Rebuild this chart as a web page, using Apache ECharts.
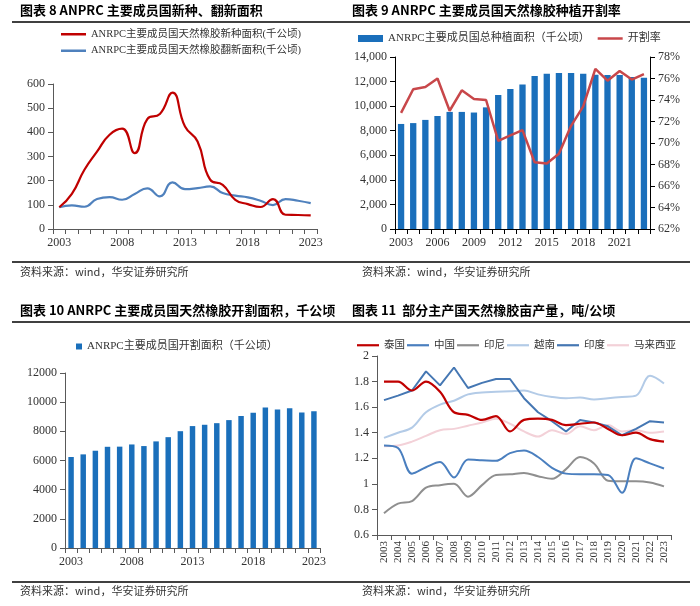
<!DOCTYPE html>
<html>
<head>
<meta charset="utf-8">
<script src="https://cdn.jsdelivr.net/npm/echarts@6/dist/echarts.min.js"></script>
<style>html,body{margin:0;padding:0;background:#fff;}#c{width:700px;height:606px;}</style>
</head>
<body>
<div id="c"></div>
<script>
const years = ['2003','2004','2005','2006','2007','2008','2009','2010','2011','2012','2013','2014','2015','2016','2017','2018','2019','2020','2021','2022','2023'];
// Panel 1 (千公顷)
const newPlant = [90,145,245,320,390,415,314,455,476,564,424,362,204,183,121,103,91,124,59,58,56];
const replant = [90,98,92,124,132,121,145,168,135,193,165,169,176,149,138,131,117,99,124,117,107];
// Panel 2
const plantedArea = [8550,8620,8880,9200,9530,9530,9480,9900,10900,11390,11770,12450,12640,12690,12690,12640,12560,12530,12530,12370,12310];
const tapRate = [72.8,75.0,75.2,76.0,73.0,74.9,74.1,74.0,70.2,70.7,71.2,68.2,68.1,69.0,71.6,73.4,76.9,75.8,76.7,75.9,76.4];
// Panel 3
const tappedArea = [6240,6420,6670,6940,6950,7100,6990,7310,7600,8010,8360,8450,8560,8770,9060,9270,9630,9490,9590,9290,9380];
// Panel 4 (吨/公顷)
const thailand = [1.80,1.80,1.73,1.80,1.72,1.56,1.54,1.50,1.53,1.41,1.50,1.51,1.50,1.46,1.47,1.48,1.43,1.38,1.40,1.35,1.33];
const china = [1.30,1.28,1.08,1.13,1.17,1.05,1.19,1.185,1.18,1.24,1.26,1.21,1.125,1.08,1.075,1.075,1.07,0.93,1.20,1.16,1.12];
const indonesia = [0.77,0.845,0.865,0.97,0.99,1.00,0.90,0.99,1.07,1.075,1.085,1.06,1.04,1.115,1.21,1.16,1.025,1.02,1.02,1.01,0.98];
const vietnam = [1.36,1.40,1.44,1.56,1.62,1.65,1.70,1.715,1.72,1.725,1.73,1.70,1.68,1.67,1.675,1.66,1.67,1.68,1.69,1.845,1.785];
const india = [1.655,1.69,1.73,1.88,1.77,1.91,1.75,1.79,1.82,1.82,1.67,1.56,1.49,1.41,1.50,1.48,1.45,1.38,1.43,1.49,1.48];
const malaysia = [1.295,1.30,1.33,1.375,1.42,1.43,1.455,1.48,1.51,1.47,1.41,1.37,1.42,1.39,1.45,1.42,1.46,1.41,1.42,1.40,1.41];

const titles = ['图表 8 ANPRC 主要成员国新种、翻新面积','图表 9 ANRPC 主要成员国天然橡胶种植开割率','图表 10 ANRPC 主要成员国天然橡胶开割面积，千公顷','图表 11  部分主产国天然橡胶亩产量，吨/公顷'];
const sourceText = '资料来源：wind，华安证券研究所';
const n1 = 'ANRPC主要成员国天然橡胶新种面积(千公顷)';
const n2 = 'ANRPC主要成员国天然橡胶翻新面积(千公顷)';
const n3 = 'ANRPC主要成员国总种植面积（千公顷）';
const n4 = '开割率';
const n5 = 'ANRPC主要成员国开割面积（千公顷）';
const countries = ['泰国','中国','印尼','越南','印度','马来西亚'];

const SERIF = "'Liberation Serif','Noto Sans CJK SC',serif";
const axisCol = '#595959';
const lblCol = '#333';
const LINE_ICON = 'path://M0,0H10V1H0Z';

function catAxis(gi, interval, extra) {
  return Object.assign({
    type: 'category', gridIndex: gi, data: years, boundaryGap: true,
    axisLine: {lineStyle: {color: axisCol}},
    axisTick: {show: true, interval: 0, lineStyle: {color: axisCol}},
    axisLabel: {interval: interval, color: lblCol, fontFamily: SERIF, fontSize: 12, margin: 8}
  }, extra || {});
}
function valAxis(gi, min, max, step, extra) {
  return Object.assign({
    type: 'value', gridIndex: gi, min: min, max: max, interval: step,
    splitLine: {show: false},
    axisLine: {show: true, lineStyle: {color: axisCol}},
    axisTick: {show: true, lineStyle: {color: axisCol}},
    axisLabel: {color: lblCol, fontFamily: SERIF, fontSize: 12, formatter: v => String(v)}
  }, extra || {});
}
function lineSeries(name, gx, gy, data, color, width, smooth) {
  return {name: name, type: 'line', xAxisIndex: gx, yAxisIndex: gy, data: data, smooth: smooth,
    symbol: 'none', legendIcon: LINE_ICON, color: color, lineStyle: {width: width}};
}

const graphic = [];
const tpos = [[20,12],[352,12],[20,312],[352,312]];
titles.forEach((t,i)=>graphic.push({type:'text', left: tpos[i][0], top: tpos[i][1]-8, style:{text:t, font:"bold 13px 'Noto Sans CJK SC', sans-serif", fill:'#000'}}));
[22,262,322,582].forEach(y=>graphic.push({type:'line', shape:{x1:12,y1:y,x2:690,y2:y}, style:{stroke:'#000', lineWidth:1.3}}));
[[20,274],[362,274],[20,593],[362,593]].forEach(p=>graphic.push({type:'text', left:p[0], top:p[1]-8, style:{text:sourceText, font:"11px 'Noto Sans CJK SC', sans-serif", fill:'#333'}}));

const option = {
  animation: false,
  backgroundColor: '#fff',
  graphic: graphic,
  grid: [
    {left: 53, right: 383, top: 84, bottom: 377},
    {left: 395, right: 50, top: 57, bottom: 377},
    {left: 65, right: 380, top: 373, bottom: 58},
    {left: 377, right: 29, top: 356, bottom: 71}
  ],
  legend: [
    {data: [{name: n1, icon: LINE_ICON}, {name: n2, icon: LINE_ICON}], orient: 'vertical', left: 56, top: 24, itemWidth: 25, itemHeight: 12, itemGap: 6,
     textStyle: {fontFamily: SERIF, fontSize: 10.5, color: lblCol}},
    {data: [{name: n3, icon: 'rect'}, {name: n4, icon: LINE_ICON}], left: 353, top: 28, itemWidth: 25, itemHeight: 7, itemGap: 8,
     textStyle: {fontFamily: SERIF, fontSize: 11, color: lblCol}},
    {data: [{name: n5, icon: 'rect'}], left: 71, top: 336, itemWidth: 6, itemHeight: 6,
     textStyle: {fontFamily: SERIF, fontSize: 11, color: lblCol}},
    {data: countries.map(c => ({name: c, icon: LINE_ICON})), icon: LINE_ICON, left: 352, top: 335, width: 345, itemWidth: 22, itemHeight: 3, itemGap: 2,
     textStyle: {fontFamily: SERIF, fontSize: 10.5, color: lblCol}}
  ],
  xAxis: [
    catAxis(0, 4),
    catAxis(1, 2, {axisLine: {lineStyle: {color: '#000'}}, axisTick: {show: true, interval: 0, lineStyle: {color: '#000'}}}),
    catAxis(2, 4),
    catAxis(3, 0, {axisLabel: {interval: 0, rotate: 90, color: lblCol, fontFamily: SERIF, fontSize: 11, margin: 6}})
  ],
  yAxis: [
    valAxis(0, 0, 600, 100),
    valAxis(1, 0, 14000, 2000, {axisLine: {show: true, lineStyle: {color: '#000'}}, axisTick: {show: true, lineStyle: {color: '#000'}},
      axisLabel: {color: lblCol, fontFamily: SERIF, fontSize: 12, formatter: v => v.toLocaleString('en-US')}}),
    valAxis(1, 62, 78, 2, {position: 'right', axisLine: {show: true, lineStyle: {color: '#000'}}, axisTick: {show: true, lineStyle: {color: '#000'}},
      axisLabel: {color: lblCol, fontFamily: SERIF, fontSize: 12, formatter: v => v + '%'}}),
    valAxis(2, 0, 12000, 2000),
    valAxis(3, 0.6, 2, 0.2, {axisLabel: {color: lblCol, fontFamily: SERIF, fontSize: 12, formatter: v => String(Math.round(v*10)/10)}})
  ],
  series: [
    lineSeries(n1, 0, 0, newPlant, '#c00000', 2.2, true),
    Object.assign(lineSeries(n2, 0, 0, replant, '#4f81bd', 2.2, true), {z: 1}),
    {name: n3, type: 'bar', xAxisIndex: 1, yAxisIndex: 1, data: plantedArea, barWidth: '52%', color: '#1a6fbb'},
    lineSeries(n4, 1, 2, tapRate, '#c8474a', 2.5, false),
    {name: n5, type: 'bar', xAxisIndex: 2, yAxisIndex: 3, data: tappedArea, barWidth: '45%', color: '#1a6fbb'},
    lineSeries('马来西亚', 3, 4, malaysia, '#f3d1d8', 2, 0.35),
    lineSeries('越南', 3, 4, vietnam, '#b3cbe7', 2, 0.35),
    lineSeries('印尼', 3, 4, indonesia, '#8f8f8f', 2, 0.35),
    lineSeries('中国', 3, 4, china, '#4a7fbf', 2, 0.35),
    lineSeries('印度', 3, 4, india, '#4577b3', 2, false),
    lineSeries('泰国', 3, 4, thailand, '#c00000', 2.2, 0.35)
  ]
};
const chart = echarts.init(document.getElementById('c'), null, {renderer: 'canvas'});
chart.setOption(option);
</script>
</body>
</html>
